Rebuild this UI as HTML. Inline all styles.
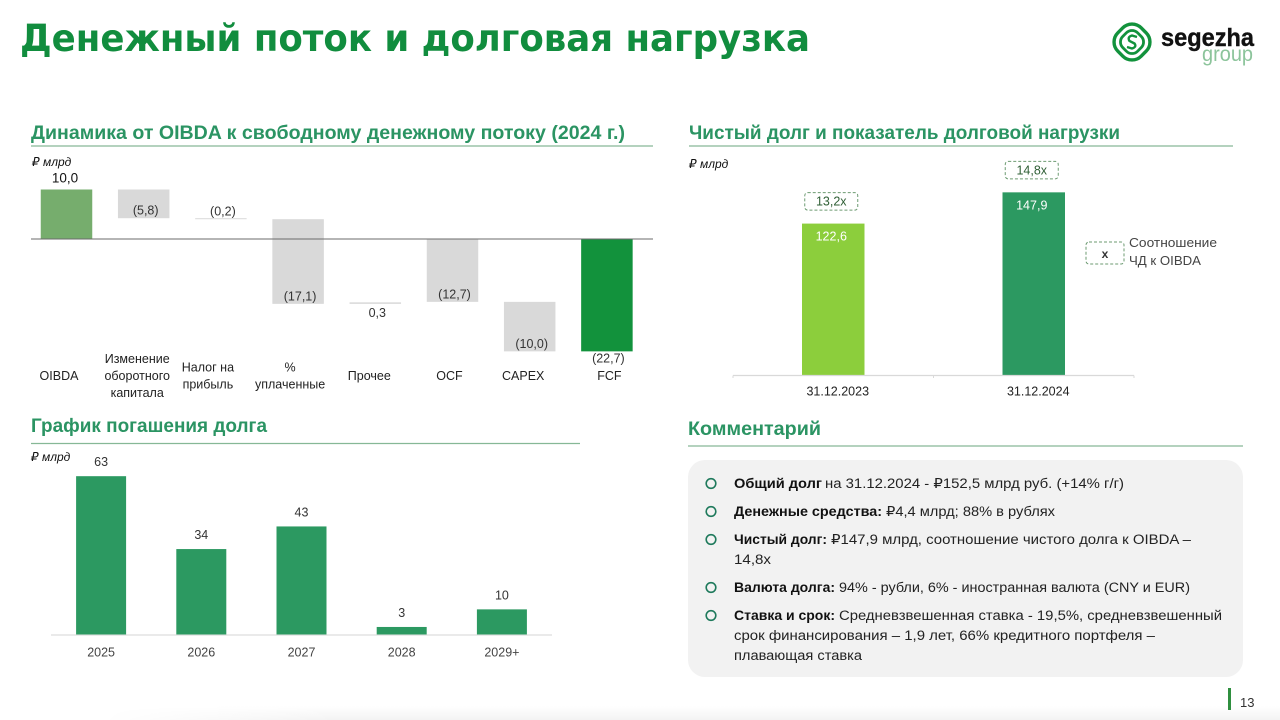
<!DOCTYPE html>
<html lang="ru">
<head>
<meta charset="utf-8">
<title>Денежный поток и долговая нагрузка</title>
<style>
html,body{margin:0;padding:0;background:#fff;width:1280px;height:720px;overflow:hidden}
svg{display:block}
text{font-family:"Liberation Sans","DejaVu Sans",sans-serif;fill:#262626}
.sec{font-weight:700;font-size:19.5px;fill:#2b9463}
.unit{font-style:italic;font-size:12px;fill:#111}
.c{font-size:13.4px;fill:#222}
.b{font-size:13.4px;font-weight:700;fill:#111}
.lbl{font-size:12.5px;fill:#333;text-anchor:middle}
.rule{stroke:#86b896;stroke-width:1.2}
.dot{fill:none;stroke:#1f7a5c;stroke-width:1.6}
.badge{fill:#fff;stroke:#6d9b72;stroke-width:1;stroke-dasharray:3 2}
</style>
</head>
<body>
<svg id="slide" width="1280" height="720" viewBox="0 0 1280 720" xmlns="http://www.w3.org/2000/svg">
  <defs>
    <linearGradient id="shade" x1="0" y1="0" x2="0" y2="1">
      <stop offset="0" stop-color="#fff"/>
      <stop offset="1" stop-color="#f3f3f3"/>
    </linearGradient>
    <linearGradient id="fadeH" x1="0" y1="0" x2="1" y2="0">
      <stop offset="0" stop-color="#000"/>
      <stop offset="0.2" stop-color="#fff"/>
      <stop offset="1" stop-color="#fff"/>
    </linearGradient>
    <mask id="fadeMask" maskUnits="userSpaceOnUse" x="100" y="700" width="1180" height="20">
      <rect x="100" y="700" width="1180" height="20" fill="url(#fadeH)"/>
    </mask>
  </defs>
  <rect x="100" y="706" width="1180" height="14" fill="url(#shade)" mask="url(#fadeMask)"/>

  <text x="20" y="51" textLength="790" lengthAdjust="spacingAndGlyphs" style="font-family:'DejaVu Sans',sans-serif;font-weight:700;font-size:37px;fill:#118d3e">Денежный поток и долговая нагрузка</text>

  <g>
    <rect x="1115.5" y="25.5" width="33" height="33" rx="13" transform="rotate(45 1132 42)" fill="none" stroke="#12923c" stroke-width="3.4"/>
    <rect x="1121.5" y="31.5" width="21" height="21" rx="8" transform="rotate(45 1132 42)" fill="none" stroke="#12923c" stroke-width="2.8"/>
    <path d="M1137 37 L1132 35.5 Q1127 37 1129.5 41 L1134.5 43.5 Q1137 47 1132 48.5 L1127 47" fill="none" stroke="#12923c" stroke-width="2.4"/>
    <text x="1161" y="46" textLength="93" lengthAdjust="spacingAndGlyphs" style="font-weight:700;font-size:25px;fill:#111;stroke:#111;stroke-width:.4">segezha</text>
    <text x="1202" y="61" textLength="51" lengthAdjust="spacingAndGlyphs" style="font-size:21px;fill:#8cc49b">group</text>
  </g>

  <text class="sec" x="31" y="139" textLength="594" lengthAdjust="spacingAndGlyphs">Динамика от OIBDA к свободному денежному потоку (2024 г.)</text>
  <line class="rule" x1="31" y1="146" x2="653" y2="146"/>
  <text class="unit" x="32" y="166">₽ млрд</text>
  <g id="waterfall"></g>

  <text class="sec" x="689" y="139" textLength="431" lengthAdjust="spacingAndGlyphs">Чистый долг и показатель долговой нагрузки</text>
  <line class="rule" x1="689" y1="146" x2="1233" y2="146"/>
  <text class="unit" x="689" y="168">₽ млрд</text>
  <g id="netdebt"></g>
  <g>
    <rect class="badge" x="1086" y="242" width="38" height="22" rx="3"/>
    <text x="1105" y="258" text-anchor="middle" style="font-size:12px;font-weight:700;fill:#333">x</text>
    <text x="1129" y="247" textLength="88" lengthAdjust="spacingAndGlyphs" style="font-size:13px;fill:#444">Соотношение</text>
    <text x="1129" y="265" textLength="72" lengthAdjust="spacingAndGlyphs" style="font-size:13px;fill:#444">ЧД к OIBDA</text>
  </g>

  <text class="sec" x="31" y="432" textLength="236" lengthAdjust="spacingAndGlyphs">График погашения долга</text>
  <line class="rule" x1="31" y1="443.5" x2="580" y2="443.5"/>
  <text class="unit" x="31" y="461">₽ млрд</text>
  <g id="repayment"></g>

  <text class="sec" x="688" y="435" textLength="133" lengthAdjust="spacingAndGlyphs">Комментарий</text>
  <line class="rule" x1="688" y1="446" x2="1243" y2="446"/>
  <rect x="688" y="460" width="555" height="217" rx="17" fill="#f2f2f2"/>

  <g>
    <circle class="dot" cx="711" cy="483.5" r="4.8"/>
    <text class="b" x="734" y="488" textLength="88" lengthAdjust="spacingAndGlyphs">Общий долг</text>
    <text class="c" x="825" y="488" textLength="299" lengthAdjust="spacingAndGlyphs">на 31.12.2024 - ₽152,5 млрд руб. (+14% г/г)</text>

    <circle class="dot" cx="711" cy="511.5" r="4.8"/>
    <text class="b" x="734" y="516" textLength="148" lengthAdjust="spacingAndGlyphs">Денежные средства:</text>
    <text class="c" x="886" y="516" textLength="169" lengthAdjust="spacingAndGlyphs">₽4,4 млрд; 88% в рублях</text>

    <circle class="dot" cx="711" cy="539.5" r="4.8"/>
    <text class="b" x="734" y="544" textLength="93" lengthAdjust="spacingAndGlyphs">Чистый долг:</text>
    <text class="c" x="831" y="544" textLength="360" lengthAdjust="spacingAndGlyphs">₽147,9 млрд, соотношение чистого долга к OIBDA –</text>
    <text class="c" x="734" y="564" textLength="37" lengthAdjust="spacingAndGlyphs">14,8x</text>

    <circle class="dot" cx="711" cy="587.5" r="4.8"/>
    <text class="b" x="734" y="592" textLength="101" lengthAdjust="spacingAndGlyphs">Валюта долга:</text>
    <text class="c" x="839" y="592" textLength="351" lengthAdjust="spacingAndGlyphs">94% - рубли, 6% - иностранная валюта (CNY и EUR)</text>

    <circle class="dot" cx="711" cy="615.5" r="4.8"/>
    <text class="b" x="734" y="620" textLength="101" lengthAdjust="spacingAndGlyphs">Ставка и срок:</text>
    <text class="c" x="839" y="620" textLength="383" lengthAdjust="spacingAndGlyphs">Средневзвешенная ставка - 19,5%, средневзвешенный</text>
    <text class="c" x="734" y="640" textLength="421" lengthAdjust="spacingAndGlyphs">срок финансирования – 1,9 лет, 66% кредитного портфеля –</text>
    <text class="c" x="734" y="660" textLength="128" lengthAdjust="spacingAndGlyphs">плавающая ставка</text>
  </g>

  <rect x="1228" y="688" width="3" height="22" fill="#2f8f3f"/>
  <text x="1240" y="707" style="font-size:13px;fill:#333">13</text>
</svg>

<script>
const waterfallCategories = [['OIBDA'], ['Изменение', 'оборотного', 'капитала'], ['Налог на', 'прибыль'], ['%', 'уплаченные'], ['Прочее'], ['OCF'], ['CAPEX'], ['FCF']];
const waterfallValues = [10.0, -5.8, -0.2, -17.1, 0.3, -12.7, -10.0, -22.7];
const waterfallKinds = ['start', 'delta', 'delta', 'delta', 'delta', 'total', 'delta', 'end'];

const netDebtCategories = ['31.12.2023', '31.12.2024'];
const netDebtValues = [122.6, 147.9];
const netDebtRatios = [13.2, 14.8];

const repaymentCategories = ['2025', '2026', '2027', '2028', '2029+'];
const repaymentValues = [63, 34, 43, 3, 10];

const NS = 'http://www.w3.org/2000/svg';
function make(parent, tag, attrs, content) {
  const el = document.createElementNS(NS, tag);
  for (const k in attrs) el.setAttribute(k, attrs[k]);
  if (content !== undefined) el.textContent = content;
  parent.appendChild(el);
  return el;
}
function comma(v, digits) {
  return Math.abs(v).toFixed(digits).replace('.', ',');
}

/* ---------- waterfall ---------- */
(function () {
  const g = document.getElementById('waterfall');
  const yOf = v => 239 - v * 4.95;
  const xOf = i => 66.5 + i * 77.2;
  const barW = 51.5;
  const colors = { start: '#76ad6d', delta: '#d9d9d9', total: '#d9d9d9', end: '#12923c' };
  const nudge = { 0: -7.5, 1: -6.5, 2: -13, 3: -8, 4: -6, 5: -3, 6: -6.5, 7: 2.5 };
  let running = 0;
  waterfallValues.forEach((v, i) => {
    const kind = waterfallKinds[i];
    let from, to;
    if (kind === 'delta') { from = running; to = running + v; running = to; }
    else { from = 0; to = v; running = v; }
    const top = yOf(Math.max(from, to));
    const bottom = yOf(Math.min(from, to));
    const bar = make(g, 'rect', { x: xOf(i) - barW / 2, y: top, width: barW, height: Math.max(bottom - top, 1), fill: colors[kind] });
    
    

    let ly, lx = xOf(i) + 2;
    if (kind === 'start') { ly = top - 7; lx = xOf(i) - 1.5; }
    else if (kind === 'end') { ly = bottom + 11; lx = xOf(i) + 1.5; }
    else if (v > 0) { ly = bottom + 13; }
    else { ly = bottom - 3.5; }
    const txt = v < 0 ? '(' + comma(v, 1) + ')' : comma(v, 1);
    const label = make(g, 'text', { x: lx, y: ly, class: 'lbl', style: kind === 'start' ? 'fill:#111;font-size:13.5px' : '' }, txt);
    
    

    const lines = waterfallCategories[i];
    const startY = 380 - (lines.length - 1) * 8.4;
    lines.forEach((line, j) => {
      const cat = make(g, 'text', { x: xOf(i) + nudge[i], y: startY + j * 16.8, class: 'lbl', style: 'fill:#222' }, line);
      
      
    });
  });
  const axis = make(g, 'line', { x1: 31, y1: yOf(0), x2: 653, y2: yOf(0), stroke: '#6b6b6b', 'stroke-width': 1 });
  
  
})();

/* ---------- net debt ---------- */
(function () {
  const g = document.getElementById('netdebt');
  const base = 375;
  const yOf = v => base - v * 1.235;
  const xOf = i => 833.25 + i * 200.5;
  const barW = 62.5;
  const colors = ['#8cce3c', '#2c9961'];
  netDebtValues.forEach((v, i) => {
    const top = yOf(v);
    const bar = make(g, 'rect', { x: xOf(i) - barW / 2, y: top, width: barW, height: base - top, fill: colors[i] });
    
    
    const val = make(g, 'text', { x: xOf(i) - 2, y: top + 17, class: 'lbl', style: 'fill:#fff;font-size:12.5px' }, comma(v, 1));
    
    
    const badge = make(g, 'rect', { x: xOf(i) - 28.5, y: top - 31, width: 53, height: 17.5, rx: 3, class: 'badge' });
    
    
    const ratio = make(g, 'text', { x: xOf(i) - 2, y: top - 18, class: 'lbl', style: 'fill:#2f5f35' }, comma(netDebtRatios[i], 1) + 'x');
    
    
    const cat = make(g, 'text', { x: xOf(i) + 4.5, y: 395.5, class: 'lbl', style: 'fill:#222' }, netDebtCategories[i]);
    
    
  });
  const axis = make(g, 'line', { x1: 733, y1: 375.5, x2: 1134, y2: 375.5, stroke: '#d9d9d9', 'stroke-width': 1.2 });
  
  
  for (let i = 0; i <= netDebtValues.length; i++) {
    const tx = 733 + i * 200.5;
    const tick = make(g, 'line', { x1: tx, y1: 375.5, x2: tx, y2: 378, stroke: '#d9d9d9', 'stroke-width': 1 });
    
    
  }
})();

/* ---------- repayment ---------- */
(function () {
  const g = document.getElementById('repayment');
  const base = 634.5;
  const yOf = v => base - v * 2.513;
  const xOf = i => 101.1 + i * 100.2;
  const barW = 50;
  const axis = make(g, 'line', { x1: 51, y1: 635, x2: 552, y2: 635, stroke: '#e3e3e3', 'stroke-width': 1.4 });
  
  
  repaymentValues.forEach((v, i) => {
    const top = yOf(v);
    const bar = make(g, 'rect', { x: xOf(i) - barW / 2, y: top, width: barW, height: base - top, fill: '#2c9961' });
    
    
    const val = make(g, 'text', { x: xOf(i), y: top - 10, class: 'lbl' }, String(v));
    
    
    const cat = make(g, 'text', { x: xOf(i), y: 656.5, class: 'lbl', style: 'fill:#444' }, repaymentCategories[i]);
    
    
  });
})();
</script>
</body>
</html>
